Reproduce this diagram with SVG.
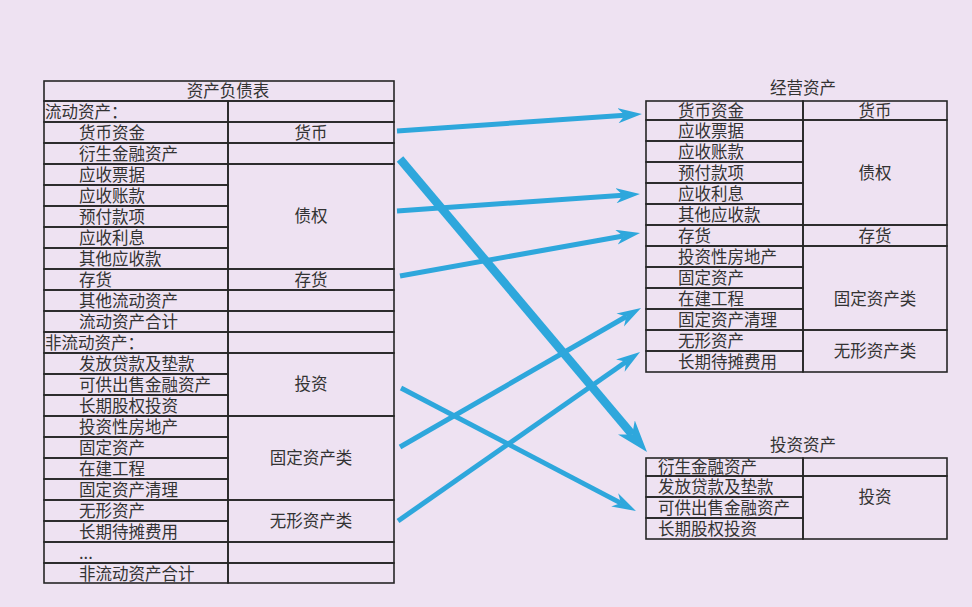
<svg xmlns="http://www.w3.org/2000/svg" width="972" height="607" viewBox="0 0 972 607">
<style>
.c{fill:none;stroke:#262626;stroke-width:1.6}
.t{font-family:"Noto Sans CJK SC","Noto Sans",sans-serif;font-size:16.5px;fill:#333}
.m{text-anchor:middle}
.a{fill:none;stroke:#2ea7dc;stroke-width:5}
.ak{fill:none;stroke:#2ea7dc;stroke-width:8.5}
</style>
<defs>
<marker id="ah" markerUnits="userSpaceOnUse" markerWidth="26" markerHeight="17" refX="7" refY="7.5" orient="auto"><path d="M0,0 L24,7.5 L0,15 L7,7.5 z" fill="#2ea7dc"/></marker>
<marker id="ahk" markerUnits="userSpaceOnUse" markerWidth="34" markerHeight="24" refX="9" refY="11" orient="auto"><path d="M0,0 L32,11 L0,22 L9,11 z" fill="#2ea7dc"/></marker>
</defs>
<rect width="972" height="607" fill="#eee2f2"/>

<g id="balance-sheet">
<g id="bs-title"><rect class="c" x="44" y="81" width="350" height="20"/><text class="t m" x="228" y="97">资产负债表</text></g>
<g id="bs-r1"><rect class="c" x="44" y="101" width="184" height="21"/><rect class="c" x="228" y="101" width="166" height="21"/><text class="t" x="45" y="118">流动资产：</text></g>
<g id="bs-r2"><rect class="c" x="44" y="122" width="184" height="21"/><rect class="c" x="228" y="122" width="166" height="21"/><text class="t" x="79" y="139">货币资金</text><text class="t m" x="311" y="139">货币</text></g>
<g id="bs-r3"><rect class="c" x="44" y="143" width="184" height="21"/><rect class="c" x="228" y="143" width="166" height="21"/><text class="t" x="79" y="160">衍生金融资产</text></g>
<g id="bs-r4"><rect class="c" x="44" y="164" width="184" height="21"/><text class="t" x="79" y="181">应收票据</text></g>
<g id="bs-r5"><rect class="c" x="44" y="185" width="184" height="21"/><text class="t" x="79" y="202">应收账款</text></g>
<g id="bs-r6"><rect class="c" x="44" y="206" width="184" height="21"/><text class="t" x="79" y="223">预付款项</text></g>
<g id="bs-r7"><rect class="c" x="44" y="227" width="184" height="21"/><text class="t" x="79" y="244">应收利息</text></g>
<g id="bs-r8"><rect class="c" x="44" y="248" width="184" height="21"/><text class="t" x="79" y="265">其他应收款</text></g>
<g id="bs-g-debt"><rect class="c" x="228" y="164" width="166" height="105"/><text class="t m" x="311" y="222">债权</text></g>
<g id="bs-r9"><rect class="c" x="44" y="269" width="184" height="21"/><rect class="c" x="228" y="269" width="166" height="21"/><text class="t" x="79" y="286">存货</text><text class="t m" x="311" y="286">存货</text></g>
<g id="bs-r10"><rect class="c" x="44" y="290" width="184" height="21"/><rect class="c" x="228" y="290" width="166" height="21"/><text class="t" x="79" y="307">其他流动资产</text></g>
<g id="bs-r11"><rect class="c" x="44" y="311" width="184" height="21"/><rect class="c" x="228" y="311" width="166" height="21"/><text class="t" x="79" y="328">流动资产合计</text></g>
<g id="bs-r12"><rect class="c" x="44" y="332" width="184" height="21"/><rect class="c" x="228" y="332" width="166" height="21"/><text class="t" x="45" y="349">非流动资产：</text></g>
<g id="bs-r13"><rect class="c" x="44" y="353" width="184" height="21"/><text class="t" x="79" y="370">发放贷款及垫款</text></g>
<g id="bs-r14"><rect class="c" x="44" y="374" width="184" height="21"/><text class="t" x="79" y="391">可供出售金融资产</text></g>
<g id="bs-r15"><rect class="c" x="44" y="395" width="184" height="21"/><text class="t" x="79" y="412">长期股权投资</text></g>
<g id="bs-g-inv"><rect class="c" x="228" y="353" width="166" height="63"/><text class="t m" x="311" y="390">投资</text></g>
<g id="bs-r16"><rect class="c" x="44" y="416" width="184" height="21"/><text class="t" x="79" y="433">投资性房地产</text></g>
<g id="bs-r17"><rect class="c" x="44" y="437" width="184" height="21"/><text class="t" x="79" y="454">固定资产</text></g>
<g id="bs-r18"><rect class="c" x="44" y="458" width="184" height="21"/><text class="t" x="79" y="475">在建工程</text></g>
<g id="bs-r19"><rect class="c" x="44" y="479" width="184" height="21"/><text class="t" x="79" y="496">固定资产清理</text></g>
<g id="bs-g-fixed"><rect class="c" x="228" y="416" width="166" height="84"/><text class="t m" x="311" y="464">固定资产类</text></g>
<g id="bs-r20"><rect class="c" x="44" y="500" width="184" height="21"/><text class="t" x="79" y="517">无形资产</text></g>
<g id="bs-r21"><rect class="c" x="44" y="521" width="184" height="21"/><text class="t" x="79" y="538">长期待摊费用</text></g>
<g id="bs-g-intang"><rect class="c" x="228" y="500" width="166" height="42"/><text class="t m" x="311" y="527">无形资产类</text></g>
<g id="bs-r22"><rect class="c" x="44" y="542" width="184" height="21"/><rect class="c" x="228" y="542" width="166" height="21"/><text class="t" x="79" y="559">...</text></g>
<g id="bs-r23"><rect class="c" x="44" y="563" width="184" height="20"/><rect class="c" x="228" y="563" width="166" height="20"/><text class="t" x="79" y="580">非流动资产合计</text></g>
</g>

<g id="operating-assets">
<text class="t m" x="803" y="94">经营资产</text>
<g id="op-r1"><rect class="c" x="646" y="101" width="157" height="19"/><rect class="c" x="803" y="101" width="144" height="19"/><text class="t" x="678" y="117">货币资金</text><text class="t m" x="875" y="117">货币</text></g>
<g id="op-r2"><rect class="c" x="646" y="120" width="157" height="21"/><text class="t" x="678" y="137">应收票据</text></g>
<g id="op-r3"><rect class="c" x="646" y="141" width="157" height="21"/><text class="t" x="678" y="158">应收账款</text></g>
<g id="op-r4"><rect class="c" x="646" y="162" width="157" height="21"/><text class="t" x="678" y="179">预付款项</text></g>
<g id="op-r5"><rect class="c" x="646" y="183" width="157" height="21"/><text class="t" x="678" y="200">应收利息</text></g>
<g id="op-r6"><rect class="c" x="646" y="204" width="157" height="21"/><text class="t" x="678" y="221">其他应收款</text></g>
<g id="op-g-debt"><rect class="c" x="803" y="120" width="144" height="105"/><text class="t m" x="875" y="179">债权</text></g>
<g id="op-r7"><rect class="c" x="646" y="225" width="157" height="21"/><rect class="c" x="803" y="225" width="144" height="21"/><text class="t" x="678" y="242">存货</text><text class="t m" x="875" y="242">存货</text></g>
<g id="op-r8"><rect class="c" x="646" y="246" width="157" height="21"/><text class="t" x="678" y="263">投资性房地产</text></g>
<g id="op-r9"><rect class="c" x="646" y="267" width="157" height="21"/><text class="t" x="678" y="284">固定资产</text></g>
<g id="op-r10"><rect class="c" x="646" y="288" width="157" height="21"/><text class="t" x="678" y="305">在建工程</text></g>
<g id="op-r11"><rect class="c" x="646" y="309" width="157" height="21"/><text class="t" x="678" y="326">固定资产清理</text></g>
<g id="op-g-fixed"><rect class="c" x="803" y="246" width="144" height="84"/><text class="t m" x="875" y="305">固定资产类</text></g>
<g id="op-r12"><rect class="c" x="646" y="330" width="157" height="21"/><text class="t" x="678" y="347">无形资产</text></g>
<g id="op-r13"><rect class="c" x="646" y="351" width="157" height="21"/><text class="t" x="678" y="368">长期待摊费用</text></g>
<g id="op-g-intang"><rect class="c" x="803" y="330" width="144" height="42"/><text class="t m" x="875" y="357">无形资产类</text></g>
</g>

<g id="investment-assets">
<text class="t m" x="803" y="451">投资资产</text>
<g id="iv-r1"><rect class="c" x="646" y="458" width="157" height="18"/><rect class="c" x="803" y="458" width="144" height="18"/><text class="t" x="658" y="473">衍生金融资产</text></g>
<g id="iv-r2"><rect class="c" x="646" y="476" width="157" height="21"/><text class="t" x="658" y="493">发放贷款及垫款</text></g>
<g id="iv-r3"><rect class="c" x="646" y="497" width="157" height="21"/><text class="t" x="658" y="514">可供出售金融资产</text></g>
<g id="iv-r4"><rect class="c" x="646" y="518" width="157" height="21"/><text class="t" x="658" y="535">长期股权投资</text></g>
<g id="iv-g-inv"><rect class="c" x="803" y="476" width="144" height="63"/><text class="t m" x="875" y="503">投资</text></g>
</g>

<g id="connectors">
<line class="a" x1="397" y1="131" x2="625" y2="115.2" marker-end="url(#ah)"/>
<line class="a" x1="397" y1="211" x2="623" y2="195.2" marker-end="url(#ah)"/>
<line class="a" x1="400" y1="276" x2="623.3" y2="236" marker-end="url(#ah)"/>
<line class="ak" x1="400" y1="159" x2="632.2" y2="434.4" marker-end="url(#ahk)"/>
<line class="a" x1="400" y1="447" x2="626.3" y2="316.5" marker-end="url(#ah)"/>
<line class="a" x1="398" y1="521" x2="626.1" y2="361.7" marker-end="url(#ah)"/>
<line class="a" x1="401" y1="388" x2="620.9" y2="503.1" marker-end="url(#ah)"/>
</g>
</svg>
